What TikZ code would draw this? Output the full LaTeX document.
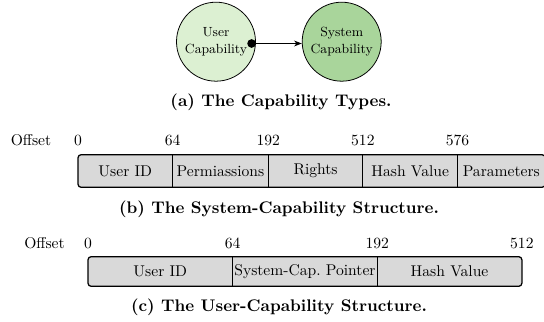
\documentclass[tikz,border=0pt]{standalone}
\usetikzlibrary{arrows.meta,backgrounds}
\definecolor{lightg}{HTML}{DCF0D2}
\definecolor{darkg}{HTML}{A9D59B}
\definecolor{boxgray}{HTML}{D9D9D9}
\begin{document}
\begin{tikzpicture}[x=0.641pt,y=-0.641pt,
  capnode/.style={circle,draw,line width=0.5pt,minimum size=79*0.641pt,inner sep=0pt,align=center,font=\fontsize{8.5}{10.5}\selectfont},
  field/.style={minimum height=#1*0.641pt,inner sep=0pt,anchor=west,font=\normalsize},
  numlab/.style={font=\normalsize,inner sep=0pt},
  caption/.style={font=\bfseries\fontsize{10.8}{13}\selectfont,inner sep=0pt},
  outerbox/.style={draw,line width=0.8pt,rounded corners=2pt,fill=boxgray},
  divider/.style={line width=0.6pt}]
\useasboundingbox (0,0) rectangle (544,322);
% (a)
\node[capnode,fill=lightg] (u) at (216,41.7) {User\\Capability};
\node[capnode,fill=darkg] (s) at (341.7,41.7) {System\\Capability};
\coordinate (ustart) at (247.3,43.5);
\draw[line width=0.6pt,{Circle[length=5.5pt]}-{Stealth[length=5pt]}] (ustart) -- (s.west |- ustart);
\node[caption] (capa) at (281,102) {(a) The Capability Types.};
% (b)
\node[numlab] (offb) at (31,140) {Offset};
\node[field=32,minimum width=94*0.641pt] (b1) at (78,171) {User ID};
\node[field=32,minimum width=95*0.641pt] (b2) at (b1.east) {Permiassions};
\node[field=32,minimum width=94*0.641pt] (b3) at (b2.east) {Rights};
\node[field=32,minimum width=94*0.641pt] (b4) at (b3.east) {Hash Value};
\node[field=32,minimum width=87*0.641pt] (b5) at (b4.east) {Parameters};
\begin{scope}[on background layer]
\draw[outerbox] (b1.north west) rectangle (b5.south east);
\end{scope}
\foreach \n in {b1,b2,b3,b4}{\draw[divider] (\n.north east) -- (\n.south east);}
\node[numlab] (nb0) at (b1.north west |- offb) {0};
\node[numlab] (nb1) at (b1.north east |- offb) {64};
\node[numlab] (nb2) at (b2.north east |- offb) {192};
\node[numlab] (nb3) at (b3.north east |- offb) {512};
\node[numlab] (nb4) at (b4.north east |- offb) {576};
\node[caption] (capb) at (279,209) {(b) The System-Capability Structure.};
% (c)
\node[numlab] (offc) at (44.5,243) {Offset};
\node[field=29,minimum width=144*0.641pt] (c1) at (88,271.5) {User ID};
\node[field=29,minimum width=144*0.641pt] (c2) at (c1.east) {System-Cap.\ Pointer};
\node[field=29,minimum width=144*0.641pt] (c3) at (c2.east) {Hash Value};
\begin{scope}[on background layer]
\draw[outerbox] (c1.north west) rectangle (c3.south east);
\end{scope}
\foreach \n in {c1,c2}{\draw[divider] (\n.north east) -- (\n.south east);}
\node[numlab] (nc0) at (c1.north west |- offc) {0};
\node[numlab] (nc1) at (c1.north east |- offc) {64};
\node[numlab] (nc2) at (c2.north east |- offc) {192};
\node[numlab] (nc3) at (c3.north east |- offc) {512};
\node[caption] (capc) at (279,307) {(c) The User-Capability Structure.};
\end{tikzpicture}
\end{document}
